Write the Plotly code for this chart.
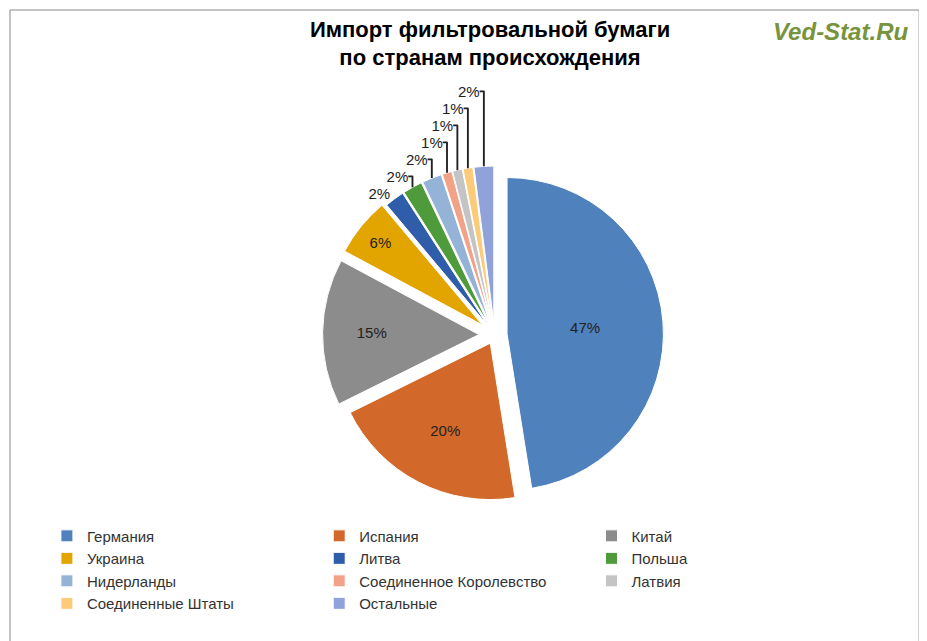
import plotly.graph_objects as go

countries = ["Германия", "Испания", "Китай", "Украина", "Литва", "Польша",
             "Нидерланды", "Соединенное Королевство", "Латвия",
             "Соединенные Штаты", "Остальные"]
shares = [47, 20, 15, 6, 2, 2, 2, 1, 1, 1, 2]
labels_pct = [f"{v}%" for v in shares]
colors = ["#4F81BD", "#D2692A", "#8C8C8C", "#E2A500", "#2F5DAA", "#4F9A3A",
          "#95B3D7", "#F2A287", "#C4C4C4", "#FBCB7A", "#8FA2DA"]

positions = ["inside", "inside", "inside", "inside"] + ["outside"] * 7

fig = go.Figure(go.Pie(
    labels=countries, values=shares, text=labels_pct,
    texttemplate="%{text}", textposition=positions,
    sort=False, direction="clockwise", rotation=0,
    pull=[0.08, 0.06, 0.1, 0.1, 0.08, 0.08, 0.08, 0.08, 0.08, 0.08, 0.08],
    marker=dict(colors=colors, line=dict(color="white", width=1)),
    textfont=dict(size=15, color="#222"),
    insidetextorientation="horizontal",
    domain=dict(x=[0.15, 0.9], y=[0.22, 0.76]),
))

fig.update_layout(
    width=927, height=641,
    paper_bgcolor="white",
    font=dict(family="Liberation Sans, Arial", size=15, color="#222"),
    title=dict(text="<b>Импорт фильтровальной бумаги<br>по странам происхождения</b>",
               x=0.52, y=0.955, xanchor="center", yanchor="top",
               font=dict(size=22, color="#000")),
    margin=dict(l=2, r=2, t=2, b=2, autoexpand=False),
    legend=dict(orientation="h", x=0.04, y=0.2, xanchor="left", yanchor="top",
                entrywidth=0.295, entrywidthmode="fraction",
                font=dict(size=15, color="#333"), traceorder="normal"),
    shapes=[dict(type="rect", xref="paper", yref="paper", x0=0, x1=0.985,
                 y0=0, y1=1, line=dict(color="#888", width=1))],
    annotations=[dict(text="<b><i>Ved-Stat.Ru</i></b>", xref="paper", yref="paper",
                      x=0.975, y=0.99, xanchor="right", yanchor="top", showarrow=False,
                      font=dict(size=24, color="#77933C"))],
)

fig.write_html("out.html")
